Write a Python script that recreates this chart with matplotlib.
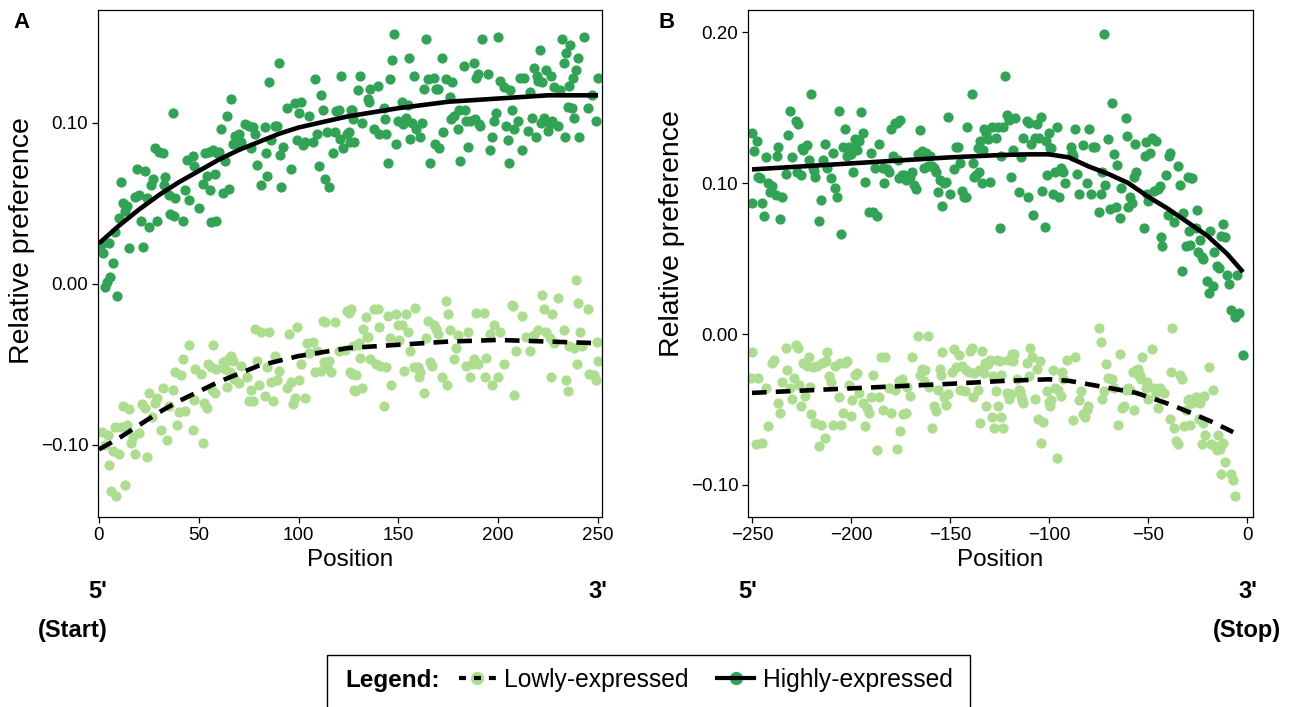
import matplotlib
matplotlib.use("Agg")
import matplotlib.pyplot as plt
from matplotlib.lines import Line2D
from matplotlib.patches import Rectangle
from matplotlib.legend_handler import HandlerTuple

plt.rcParams['font.family'] = ['Liberation Sans', 'DejaVu Sans']

# colours
light = "#addd8e"
dark = "#31a354"

# ---- Panel A: positions from start codon (0..250) ----
a_hi_x = [1, 2, 3, 4, 5, 5.5, 7, 8, 9, 10,
          11, 12, 13, 14, 15, 18, 19, 20, 21, 22,
          23, 24, 25, 26, 27, 28, 29, 30, 32, 32.5,
          33, 35, 35.5, 37, 37.5, 38, 42, 43, 44, 45,
          47, 47.5, 50, 52, 53, 54, 55, 55.5, 56, 57,
          58, 58.5, 59, 60, 61, 62, 63, 64, 65, 66,
          67, 68, 69, 70, 71, 73, 75, 76, 77, 78,
          79, 81, 83, 83.5, 84, 85, 86, 88, 89, 90,
          90.5, 91, 92, 94, 96, 98, 99, 100, 101, 102,
          103, 105, 107, 108, 109, 110, 111, 112, 113, 114,
          115, 117, 118, 118.5, 120, 120.5, 121, 122, 124, 125,
          126, 126.5, 127, 127.5, 128, 130, 131, 132, 135, 135.5,
          136, 138, 140, 140.5, 143, 143.5, 144, 145, 146, 147,
          148, 149, 150, 152, 152.5, 154, 155, 155.5, 156, 157,
          158, 159, 161, 162, 163, 164, 165, 166, 168, 168.5,
          169, 170, 170.5, 172, 172.5, 174, 176, 176.5, 177, 178,
          180, 180.5, 181, 183, 183.5, 184, 185, 186, 188, 188.5,
          189, 190, 190.5, 191, 192, 195, 196, 197, 198, 199,
          200, 201, 203, 204, 205, 205.5, 206, 207, 208, 210,
          211, 212, 213, 215, 216, 217, 218, 219, 219.5, 220,
          221, 221.5, 222, 223, 224, 225, 226, 226.5, 227, 228,
          230, 231, 232, 233, 233.5, 234, 235, 235.5, 236, 237,
          237.5, 238, 239, 240, 240.5, 243, 245, 247, 249, 250]
a_hi_y = [0.024, 0.019, -0.002, 0.001, 0.025, 0.004, 0.013, 0.032, -0.008, 0.041,
          0.063, 0.050, 0.045, 0.048, 0.022, 0.054, 0.071, 0.055, 0.039, 0.023,
          0.070, 0.053, 0.035, 0.061, 0.065, 0.084, 0.039, 0.082, 0.081, 0.061,
          0.066, 0.055, 0.043, 0.106, 0.042, 0.053, 0.039, 0.058, 0.077, 0.052,
          0.079, 0.073, 0.047, 0.062, 0.081, 0.067, 0.082, 0.058, 0.038, 0.083,
          0.068, 0.039, 0.081, 0.082, 0.096, 0.056, 0.076, 0.104, 0.059, 0.115,
          0.087, 0.092, 0.087, 0.093, 0.088, 0.099, 0.098, 0.084, 0.097, 0.093,
          0.074, 0.061, 0.097, 0.081, 0.067, 0.125, 0.089, 0.098, 0.098, 0.137,
          0.080, 0.060, 0.085, 0.109, 0.071, 0.112, 0.089, 0.106, 0.113, 0.086,
          0.088, 0.104, 0.088, 0.127, 0.093, 0.073, 0.117, 0.108, 0.065, 0.094,
          0.060, 0.081, 0.094, 0.107, 0.108, 0.090, 0.129, 0.084, 0.093, 0.094,
          0.088, 0.108, 0.108, 0.102, 0.088, 0.120, 0.129, 0.100, 0.115, 0.113,
          0.121, 0.096, 0.123, 0.093, 0.109, 0.102, 0.093, 0.075, 0.127, 0.139,
          0.155, 0.087, 0.101, 0.113, 0.099, 0.103, 0.111, 0.140, 0.090, 0.100,
          0.129, 0.096, 0.091, 0.100, 0.121, 0.152, 0.127, 0.075, 0.128, 0.087,
          0.121, 0.121, 0.084, 0.140, 0.094, 0.127, 0.116, 0.102, 0.125, 0.104,
          0.096, 0.108, 0.076, 0.135, 0.108, 0.101, 0.085, 0.101, 0.137, 0.102,
          0.128, 0.130, 0.099, 0.098, 0.152, 0.130, 0.083, 0.091, 0.101, 0.106,
          0.153, 0.126, 0.122, 0.098, 0.089, 0.075, 0.120, 0.108, 0.096, 0.101,
          0.128, 0.083, 0.128, 0.095, 0.119, 0.103, 0.134, 0.091, 0.129, 0.126,
          0.145, 0.100, 0.125, 0.103, 0.133, 0.095, 0.099, 0.129, 0.101, 0.122,
          0.098, 0.120, 0.152, 0.137, 0.091, 0.143, 0.110, 0.123, 0.148, 0.109,
          0.128, 0.103, 0.133, 0.140, 0.091, 0.153, 0.109, 0.117, 0.101, 0.128]

a_lo_x = [1.5, 3, 4.5, 5, 6, 7, 8, 8.5, 10, 11,
          12, 13, 14, 15, 16, 17, 18, 20, 21.5, 23,
          24, 25, 26.5, 28, 29, 31, 32, 34, 35, 37,
          38, 39, 40, 41, 42, 43, 45, 47, 47.5, 48,
          51, 52, 52.5, 54, 54.5, 56, 56.5, 57, 58, 58.5,
          62, 63, 63.5, 64, 65, 65.5, 66, 67, 67.5, 70,
          71, 74, 75, 76, 77, 78, 79, 80, 81, 83,
          84, 85, 86, 87, 88, 89, 90, 94, 95, 96,
          97, 98, 99, 100, 101, 103, 104, 105, 107, 108,
          109, 111, 112, 112.5, 113, 114, 115, 116, 118, 120,
          123, 124, 125, 126, 126.5, 127, 127.5, 128, 128.5, 129,
          130, 130.5, 131, 132, 132.5, 134, 134.5, 135, 136, 138,
          139, 140, 140.5, 141, 143, 144, 145, 146, 146.5, 149,
          150, 150.5, 152, 153, 154, 155, 156, 158, 158.5, 160,
          160.5, 161, 163, 164, 165, 166, 167, 168, 169, 170,
          172, 174, 174.5, 175, 176, 178, 179, 180, 184, 185,
          186, 187, 188, 189, 190, 193, 193.5, 194, 196, 197,
          198, 200, 201, 203, 207, 207.5, 208, 209, 212, 214,
          216, 218, 220, 222, 223, 224, 226, 226.5, 227, 228,
          230, 233, 234, 235, 235.5, 238, 239, 239.5, 240, 241,
          242, 245, 245.5, 248, 249, 249.5, 250]
a_lo_y = [-0.092, -0.100, -0.094, -0.113, -0.129, -0.104, -0.089, -0.132, -0.106, -0.089,
          -0.076, -0.125, -0.088, -0.078, -0.099, -0.095, -0.106, -0.093, -0.075, -0.077,
          -0.108, -0.068, -0.083, -0.074, -0.071, -0.091, -0.065, -0.097, -0.076, -0.066,
          -0.055, -0.088, -0.080, -0.057, -0.047, -0.079, -0.038, -0.091, -0.072, -0.053,
          -0.056, -0.099, -0.074, -0.077, -0.050, -0.052, -0.066, -0.038, -0.068, -0.053,
          -0.049, -0.053, -0.048, -0.064, -0.046, -0.055, -0.045, -0.048, -0.059, -0.062,
          -0.051, -0.058, -0.073, -0.066, -0.073, -0.028, -0.048, -0.063, -0.030, -0.070,
          -0.052, -0.030, -0.061, -0.073, -0.045, -0.060, -0.054, -0.065, -0.031, -0.061,
          -0.075, -0.071, -0.027, -0.060, -0.050, -0.071, -0.037, -0.043, -0.036, -0.055,
          -0.042, -0.054, -0.023, -0.049, -0.024, -0.052, -0.048, -0.055, -0.024, -0.042,
          -0.041, -0.017, -0.018, -0.055, -0.016, -0.056, -0.039, -0.066, -0.067, -0.057,
          -0.038, -0.037, -0.046, -0.065, -0.028, -0.021, -0.033, -0.033, -0.047, -0.016,
          -0.050, -0.016, -0.027, -0.051, -0.076, -0.052, -0.020, -0.034, -0.063, -0.019,
          -0.026, -0.035, -0.026, -0.054, -0.019, -0.030, -0.042, -0.052, -0.015, -0.052,
          -0.058, -0.055, -0.068, -0.034, -0.023, -0.049, -0.051, -0.026, -0.028, -0.031,
          -0.058, -0.011, -0.063, -0.019, -0.029, -0.047, -0.040, -0.032, -0.051, -0.030,
          -0.058, -0.050, -0.047, -0.018, -0.050, -0.018, -0.058, -0.046, -0.031, -0.063,
          -0.026, -0.058, -0.030, -0.050, -0.013, -0.014, -0.069, -0.042, -0.020, -0.033,
          -0.042, -0.032, -0.029, -0.007, -0.016, -0.030, -0.034, -0.058, -0.019, -0.037,
          -0.009, -0.029, -0.060, -0.067, -0.039, -0.040, 0.002, -0.050, -0.012, -0.030,
          -0.039, -0.016, -0.056, -0.057, -0.060, -0.036, -0.048]

# fitted trend curves, panel A
a_fit_x = [0, 10, 20, 30, 40, 50, 60, 70, 80, 90, 100, 125, 150, 175, 200, 225, 250]
a_hi_fit = [0.025, 0.036, 0.046, 0.055, 0.063, 0.070, 0.077, 0.083, 0.088, 0.093,
            0.097, 0.104, 0.109, 0.113, 0.115, 0.117, 0.117]
a_lo_fit = [-0.103, -0.096, -0.088, -0.080, -0.073, -0.067, -0.061, -0.056, -0.051, -0.048,
            -0.045, -0.040, -0.038, -0.036, -0.035, -0.036, -0.037]

# ---- Panel B: positions relative to stop codon (-250..0) ----
b_hi_x = [-250, -250, -249, -247.5, -247, -246, -245, -244, -243, -242,
          -241, -240, -238, -237.5, -237, -236, -235, -233, -232, -231,
          -230, -228, -227.5, -227, -225, -224.5, -224, -222, -221, -220,
          -219, -218.5, -218, -216, -215, -214, -213, -212, -210, -209,
          -208, -207, -206, -205, -204, -203, -202, -201, -200, -199,
          -198.5, -198, -197, -196, -195, -194, -193, -191, -190, -189,
          -188, -187, -186, -184, -183.5, -182, -181, -180, -179, -178,
          -177, -176.5, -176, -175, -174, -173, -172, -170, -169, -168,
          -167, -166, -165, -164, -163, -162, -161, -160, -159, -158,
          -157, -156, -155, -154, -153, -152, -151, -150, -148, -147,
          -146, -145, -144, -143, -142, -141.5, -139, -138.5, -138, -137,
          -136, -135.5, -135, -134, -133.5, -133, -132, -131, -130, -129,
          -127, -126, -125, -124, -123, -122, -121, -120, -119, -118,
          -117, -115, -114, -113, -111, -110.5, -110, -109, -108, -107,
          -106, -105, -104, -103.5, -102, -101.5, -101, -100, -99.5, -99,
          -98, -97, -96, -95, -94, -93, -92, -89, -88.5, -88,
          -87, -86, -85, -83, -81, -80, -79, -78, -77, -75,
          -74, -73, -72, -71.5, -70, -69, -68, -67, -66, -65.5,
          -64, -63.5, -61, -60.5, -60, -59, -58, -57, -56.5, -56,
          -52, -51.5, -51, -50.5, -50, -49, -48, -47, -46, -45,
          -44, -43.5, -43, -41, -40, -39.5, -39, -37, -35, -34,
          -33, -32.5, -31, -30, -29.5, -29, -28.5, -28, -26, -25.5,
          -25, -24, -23, -22, -20, -19, -18.5, -17, -16.5, -15,
          -14, -13, -12, -11, -10, -9, -8, -6, -5, -4, -2]
b_hi_y = [0.133, 0.087, 0.121, 0.128, 0.104, 0.103, 0.087, 0.078, 0.117, 0.100,
          0.094, 0.098, 0.092, 0.118, 0.124, 0.076, 0.091, 0.106, 0.132, 0.148,
          0.117, 0.141, 0.107, 0.139, 0.105, 0.123, 0.122, 0.125, 0.115, 0.159,
          0.110, 0.108, 0.104, 0.075, 0.089, 0.115, 0.126, 0.110, 0.103, 0.120,
          0.097, 0.091, 0.148, 0.066, 0.124, 0.136, 0.118, 0.124, 0.119, 0.107,
          0.123, 0.129, 0.122, 0.128, 0.147, 0.133, 0.101, 0.081, 0.120, 0.081,
          0.110, 0.078, 0.126, 0.110, 0.100, 0.109, 0.107, 0.136, 0.118, 0.140,
          0.140, 0.115, 0.103, 0.142, 0.105, 0.105, 0.102, 0.104, 0.107, 0.099,
          0.096, 0.119, 0.135, 0.121, 0.110, 0.120, 0.111, 0.118, 0.111, 0.110,
          0.107, 0.094, 0.102, 0.085, 0.100, 0.101, 0.144, 0.093, 0.109, 0.124,
          0.124, 0.113, 0.095, 0.091, 0.091, 0.137, 0.159, 0.113, 0.104, 0.105,
          0.123, 0.107, 0.128, 0.100, 0.122, 0.136, 0.133, 0.129, 0.101, 0.137,
          0.130, 0.137, 0.070, 0.118, 0.137, 0.171, 0.145, 0.142, 0.104, 0.122,
          0.143, 0.094, 0.117, 0.130, 0.141, 0.091, 0.140, 0.126, 0.079, 0.130,
          0.139, 0.130, 0.144, 0.095, 0.071, 0.128, 0.105, 0.133, 0.123, 0.123,
          0.093, 0.107, 0.137, 0.091, 0.110, 0.107, 0.100, 0.124, 0.120, 0.118,
          0.136, 0.106, 0.093, 0.125, 0.100, 0.136, 0.093, 0.124, 0.124, 0.081,
          0.093, 0.107, 0.199, 0.099, 0.129, 0.083, 0.153, 0.119, 0.084, 0.112,
          0.077, 0.097, 0.143, 0.131, 0.084, 0.091, 0.087, 0.104, 0.126, 0.107,
          0.070, 0.118, 0.127, 0.093, 0.088, 0.120, 0.130, 0.095, 0.128, 0.096,
          0.098, 0.064, 0.058, 0.105, 0.079, 0.118, 0.120, 0.074, 0.111, 0.099,
          0.042, 0.080, 0.058, 0.104, 0.068, 0.059, 0.103, 0.103, 0.070, 0.082,
          0.054, 0.062, 0.051, 0.050, 0.035, 0.027, 0.068, 0.032, 0.054, 0.045,
          0.044, 0.065, 0.073, 0.064, 0.039, 0.033, 0.016, 0.011, 0.039, 0.014, -0.014]

b_lo_x = [-250, -250.5, -248, -247, -245, -243, -242, -240, -239, -237,
          -236, -235, -233, -232.5, -231, -230, -229, -228, -227, -226,
          -225, -224, -223, -222, -221, -220.5, -220, -219, -218, -217,
          -216, -215, -214.5, -213, -212.5, -212, -211, -210, -209, -208,
          -206, -205.5, -205, -204, -203, -202, -201, -200, -199.5, -198,
          -197, -196, -194, -193, -192, -191, -190, -189, -187, -186,
          -185, -184, -183, -181, -180, -178, -177, -176, -175, -174,
          -173.5, -172, -171.5, -170, -169, -166, -165, -164, -163, -162.5,
          -161, -160.5, -159, -158, -157, -156, -155, -154.5, -154, -153,
          -152, -151, -149, -148, -147, -145.5, -145, -144, -142.5, -142,
          -140.5, -140, -139, -138.5, -138, -136, -135.5, -135, -134, -133,
          -132.5, -132, -131, -130, -129, -128.5, -128, -127, -126.5, -126,
          -125, -124.5, -124, -123, -121, -120.5, -120, -119, -118.5, -118,
          -117.5, -116, -115, -114.5, -114, -113.5, -113, -111, -110, -109.5,
          -108.5, -107, -106, -105.5, -104.5, -104, -103, -101, -100, -99.5,
          -99, -98, -97, -96, -95.5, -94, -93.5, -93, -91, -88,
          -87, -85, -84, -83, -82, -81, -80.5, -75, -74, -73,
          -72, -71, -70, -68, -67, -65, -64, -63, -62, -61,
          -60, -59, -57.5, -57, -56, -55, -54.5, -54, -53.5, -53,
          -51, -50.5, -50, -48, -47, -46, -45, -44, -42, -39,
          -38.5, -38, -37, -36, -35, -34, -33, -32, -31, -30,
          -29.5, -29, -28, -26, -25, -24.5, -24, -23, -22, -21.5,
          -21, -19, -18, -17, -16, -15, -14.5, -13.5, -13, -12,
          -11, -8, -7, -6]
b_lo_y = [-0.012, -0.029, -0.073, -0.029, -0.072, -0.036, -0.061, -0.019, -0.017, -0.046,
          -0.052, -0.032, -0.009, -0.024, -0.036, -0.043, -0.029, -0.007, -0.009, -0.034,
          -0.048, -0.019, -0.041, -0.021, -0.015, -0.035, -0.053, -0.022, -0.059, -0.021,
          -0.074, -0.060, -0.019, -0.069, -0.018, -0.012, -0.028, -0.032, -0.060, -0.021,
          -0.042, -0.019, -0.060, -0.052, -0.019, -0.018, -0.034, -0.054, -0.044, -0.027,
          -0.026, -0.039, -0.046, -0.061, -0.049, -0.052, -0.042, -0.027, -0.077, -0.042,
          -0.015, -0.050, -0.015, -0.036, -0.052, -0.037, -0.076, -0.031, -0.064, -0.030,
          -0.053, -0.052, -0.035, -0.041, -0.015, -0.001, -0.027, -0.023, -0.031, -0.024,
          -0.001, -0.035, -0.062, -0.048, -0.051, -0.037, -0.023, -0.027, -0.012, -0.042,
          -0.047, -0.040, -0.025, -0.010, -0.022, -0.014, -0.037, -0.021, -0.038, -0.024,
          -0.025, -0.011, -0.009, -0.042, -0.026, -0.037, -0.024, -0.059, -0.011, -0.026,
          -0.019, -0.048, -0.020, -0.017, -0.055, -0.028, -0.062, -0.038, -0.017, -0.048,
          -0.018, -0.055, -0.027, -0.062, -0.039, -0.017, -0.043, -0.040, -0.013, -0.018,
          -0.013, -0.030, -0.037, -0.038, -0.041, -0.044, -0.046, -0.019, -0.028, -0.009,
          -0.015, -0.043, -0.023, -0.056, -0.018, -0.072, -0.058, -0.038, -0.045, -0.048,
          -0.044, -0.024, -0.036, -0.082, -0.037, -0.041, -0.025, -0.030, -0.017, -0.057,
          -0.015, -0.044, -0.038, -0.053, -0.055, -0.050, -0.048, 0.004, -0.005, -0.043,
          -0.038, -0.020, -0.029, -0.030, -0.036, -0.060, -0.013, -0.049, -0.048, -0.037,
          -0.036, -0.037, -0.025, -0.050, -0.024, -0.023, -0.028, -0.027, -0.030, -0.015,
          -0.036, -0.032, -0.043, -0.010, -0.036, -0.039, -0.049, -0.036, -0.039, -0.056,
          -0.025, 0.004, -0.062, -0.071, -0.073, -0.027, -0.030, -0.061, -0.050, -0.044,
          -0.043, -0.060, -0.046, -0.042, -0.043, -0.056, -0.046, -0.073, -0.059, -0.041,
          -0.067, -0.022, -0.073, -0.037, -0.074, -0.077, -0.067, -0.076, -0.093, -0.072,
          -0.085, -0.093, -0.097, -0.107]

# fitted trend curves, panel B
b_hi_fit_x = [-250, -225, -200, -175, -150, -125, -110, -100, -90, -80, -70, -60,
              -50, -40, -30, -20, -10, -2]
b_hi_fit = [0.109, 0.111, 0.113, 0.115, 0.117, 0.1185, 0.119, 0.119, 0.117, 0.111,
            0.106, 0.100, 0.091, 0.083, 0.074, 0.065, 0.053, 0.041]
b_lo_fit_x = [-250, -200, -150, -122, -100, -90, -77, -56, -38, -18, -7]
b_lo_fit = [-0.039, -0.036, -0.033, -0.031, -0.030, -0.031, -0.034, -0.039, -0.047,
            -0.058, -0.065]

W, H = 1298, 707
fig = plt.figure(figsize=(W / 100, H / 100), dpi=100)

dot = 54
lw = 3.3
dash = (0, (3.2, 2.0))


def style_axes(ax, label_y):
    for s in ax.spines.values():
        s.set_linewidth(0.9)
        s.set_color("black")
    ax.tick_params(axis="both", direction="out", length=4.5, width=0.9, pad=2.5,
                   labelsize=13.5, colors="black")
    ax.set_xlabel("Position", fontsize=17.5, labelpad=4)
    ax.set_ylabel("Relative preference", fontsize=20.5)
    ax.yaxis.set_label_coords(-0.125, label_y)


axA = fig.add_axes([98 / W, 1 - 517 / H, 504 / W, 507 / H])
axA.scatter(a_lo_x, a_lo_y, s=dot, color=light, linewidths=0, zorder=2)
axA.scatter(a_hi_x, a_hi_y, s=dot, color=dark, linewidths=0, zorder=2)
axA.plot(a_fit_x, a_lo_fit, color="black", lw=lw, ls=dash, zorder=3)
axA.plot(a_fit_x, a_hi_fit, color="black", lw=lw, zorder=3, solid_capstyle="butt")
axA.set_xlim(-0.5, 252)
axA.set_ylim(-0.145, 0.170)
axA.set_xticks([0, 50, 100, 150, 200, 250])
axA.set_yticks([-0.10, 0.00, 0.10])
axA.set_yticklabels(["\u22120.10", "0.00", "0.10"])
style_axes(axA, 0.545)

axB = fig.add_axes([748 / W, 1 - 517 / H, 505 / W, 507 / H])
axB.scatter(b_lo_x, b_lo_y, s=dot, color=light, linewidths=0, zorder=2)
axB.scatter(b_hi_x, b_hi_y, s=dot, color=dark, linewidths=0, zorder=2)
axB.plot(b_lo_fit_x, b_lo_fit, color="black", lw=lw, ls=dash, zorder=3)
axB.plot(b_hi_fit_x, b_hi_fit, color="black", lw=lw, zorder=3, solid_capstyle="butt")
axB.set_xlim(-252, 3)
axB.set_ylim(-0.1212, 0.2146)
axB.set_xticks([-250, -200, -150, -100, -50, 0])
axB.set_yticks([-0.10, 0.00, 0.10, 0.20])
axB.set_yticklabels(["\u22120.10", "0.00", "0.10", "0.20"])
style_axes(axB, 0.56)


def ftext(px, py, s, **kw):
    fig.text(px / W, 1 - py / H, s, **kw)


ftext(22, 22, "A", fontsize=16, fontweight="bold", ha="center", va="center")
ftext(667, 22, "B", fontsize=16, fontweight="bold", ha="center", va="center")

end_kw = dict(fontsize=17, fontweight="bold", ha="center", va="center")
ftext(98, 591, "5'", **end_kw)
ftext(598, 591, "3'", **end_kw)
ftext(73, 631, "(Start)", **end_kw)
ftext(748, 591, "5'", **end_kw)
ftext(1248, 591, "3'", **end_kw)
ftext(1247, 631, "(Stop)", **end_kw)

# legend box at the bottom
fig.patches.append(Rectangle((327 / W, -0.02), (970 - 327) / W, 0.02 + (707 - 655) / H,
                             transform=fig.transFigure, fill=False, edgecolor="black",
                             linewidth=1.0, clip_on=False))
ftext(345, 680, "Legend:", fontsize=17.5, fontweight="bold", ha="left", va="center")

# dot first, line on top; dash pattern puts the middle dash over the dot
lo_handle = (Line2D([], [], marker="o", ls="none", color=light, markersize=8.5),
             Line2D([], [], color="black", lw=3, ls=(0, (1.67, 1.92))))
hi_handle = (Line2D([], [], marker="o", ls="none", color=dark, markersize=8.5),
             Line2D([], [], color="black", lw=3))
fig.legend([lo_handle, hi_handle], ["Lowly-expressed", "Highly-expressed"],
           handler_map={tuple: HandlerTuple(ndivide=1)},
           loc="center left", bbox_to_anchor=(459 / W, 1 - 680 / H), ncol=2,
           frameon=False, fontsize=17.7, handlelength=1.5, handletextpad=0.35,
           columnspacing=1.15, borderpad=0, borderaxespad=0)

fig.savefig("out.png", dpi=100)
